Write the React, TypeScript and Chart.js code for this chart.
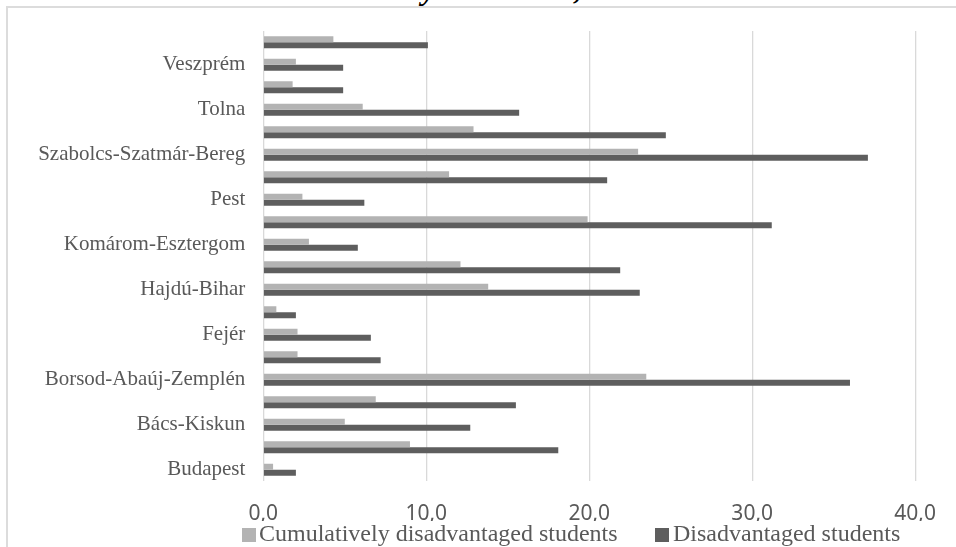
import React, { useEffect, useRef } from "react";
import { Chart, registerables } from "chart.js";

Chart.register(...registerables);

// Categories in Excel order (first = bottom of the chart)
const categories = [
  "Budapest",
  "Baranya",
  "Bács-Kiskun",
  "Békés",
  "Borsod-Abaúj-Zemplén",
  "Csongrád",
  "Fejér",
  "Győr-Moson-Sopron",
  "Hajdú-Bihar",
  "Heves",
  "Komárom-Esztergom",
  "Nógrád",
  "Pest",
  "Somogy",
  "Szabolcs-Szatmár-Bereg",
  "Jász-Nagykun-Szolnok",
  "Tolna",
  "Vas",
  "Veszprém",
  "Zala",
];

const cumulativelyDisadvantaged = [
  0.6, 9.0, 5.0, 6.9, 23.5, 2.1, 2.1, 0.8, 13.8, 12.1,
  2.8, 19.9, 2.4, 11.4, 23.0, 12.9, 6.1, 1.8, 2.0, 4.3,
];

const disadvantaged = [
  2.0, 18.1, 12.7, 15.5, 36.0, 7.2, 6.6, 2.0, 23.1, 21.9,
  5.8, 31.2, 6.2, 21.1, 37.1, 24.7, 15.7, 4.9, 4.9, 10.1,
];

const seriesLabels = ["Cumulatively disadvantaged students", "Disadvantaged students"];
const seriesColors = ["#b3b3b3", "#5e5e5e"];
const xMin = 0;
const xMax = 40;
const xStep = 10;
const titleText = "secondary education, 2016";

const legendPos = [
  { box: 242, text: 259 },
  { box: 655, text: 673 },
];

export default function App() {
  const canvasRef = useRef<HTMLCanvasElement | null>(null);

  useEffect(() => {
    if (!canvasRef.current) return;
    const chart = new Chart(canvasRef.current, {
      type: "bar",
      data: {
        labels: categories,
        datasets: [
          {
            label: seriesLabels[0],
            data: cumulativelyDisadvantaged,
            backgroundColor: seriesColors[0],
            categoryPercentage: 0.54,
            barPercentage: 1.0,
          },
          {
            label: seriesLabels[1],
            data: disadvantaged,
            backgroundColor: seriesColors[1],
            categoryPercentage: 0.54,
            barPercentage: 1.0,
          },
        ],
      },
      options: {
        indexAxis: "y",
        responsive: false,
        animation: false,
        layout: { padding: { left: 0, right: 40, top: 31, bottom: 26 } },
        plugins: {
          legend: { display: false },
          title: { display: false },
          tooltip: { enabled: false },
        },
        scales: {
          x: {
            min: xMin,
            max: xMax,
            grid: { color: "#d9d9d9", lineWidth: 1.3, drawTicks: false },
            border: { display: false },
            ticks: {
              stepSize: xStep,
              padding: 20,
              color: "#595959",
              font: { family: "'Noto Sans'", size: 21 },
              callback: (v: any) => Number(v).toFixed(1).replace(".", ","),
            },
            afterFit: (s: any) => {
              s.height = 40;
            },
          },
          y: {
            reverse: true,
            grid: { display: false, drawTicks: false },
            border: { display: false },
            ticks: {
              autoSkip: false,
              padding: 18,
              color: "#595959",
              font: { family: "'Liberation Serif'", size: 21 },
              callback: function (this: any, _v: any, i: number) {
                return i % 2 === 0 ? categories[i] : "";
              },
            },
            afterFit: (s: any) => {
              s.width = 263.3;
            },
          },
        },
      },
    });
    return () => chart.destroy();
  }, []);

  return (
    <div
      style={{
        position: "absolute",
        left: 0,
        top: 0,
        width: 956,
        height: 547,
        overflow: "hidden",
        background: "#ffffff",
      }}
    >
      <div
        style={{
          position: "absolute",
          left: 303,
          top: -28,
          fontFamily: "'Liberation Serif'",
          fontWeight: "bold",
          fontStyle: "italic",
          fontSize: 32,
          lineHeight: "32px",
          whiteSpace: "nowrap",
          color: "#000",
        }}
      >
        {titleText}
      </div>
      <div
        style={{
          position: "absolute",
          left: 6,
          top: 6,
          width: 950,
          height: 541,
          boxSizing: "border-box",
          borderLeft: "2px solid #dcdcdc",
          borderTop: "2px solid #dcdcdc",
        }}
      />
      <canvas
        ref={canvasRef}
        width={956}
        height={547}
        style={{ position: "absolute", left: 0, top: 0, width: 956, height: 547 }}
      />
      {seriesLabels.map((lab, i) => (
        <React.Fragment key={lab}>
          <div
            style={{
              position: "absolute",
              left: legendPos[i].box,
              top: 527.5,
              width: 14,
              height: 14,
              background: seriesColors[i],
            }}
          />
          <div
            style={{
              position: "absolute",
              left: legendPos[i].text,
              top: 521.4,
              fontFamily: "'Liberation Serif'",
              fontSize: 24,
              lineHeight: "24px",
              color: "#595959",
              whiteSpace: "nowrap",
            }}
          >
            {lab}
          </div>
        </React.Fragment>
      ))}
    </div>
  );
}
